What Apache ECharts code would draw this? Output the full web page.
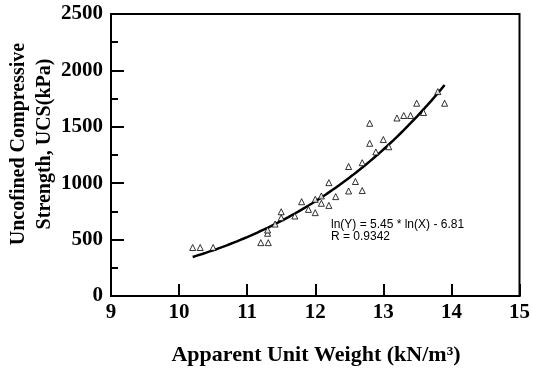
<!DOCTYPE html>
<html>
<head>
<meta charset="utf-8">
<title>UCS vs Apparent Unit Weight</title>
<script src="https://cdn.jsdelivr.net/npm/echarts@6/dist/echarts.min.js"></script>
<style>
  html, body { margin: 0; padding: 0; background: #fff; }
  #chart { width: 533px; height: 370px; }
</style>
</head>
<body>
<div id="chart"></div>
<script>
// Measured samples: apparent unit weight (kN/m³) and UCS (kPa)
const unitWeight = [
  10.20, 10.31, 10.50, 11.20, 11.31, 11.30, 11.30, 11.41, 11.50, 11.50,
  11.70, 11.80, 11.90, 12.00, 12.00, 12.09, 12.09, 12.20, 12.20, 12.30,
  12.49, 12.49, 12.59, 12.69, 12.69, 12.80, 12.89, 12.80, 13.00, 13.08,
  13.20, 13.30, 13.40, 13.49, 13.59, 13.80, 13.90
];
const ucs = [
  430, 430, 430, 473, 473, 556, 585, 638, 694, 747,
  709, 836, 768, 739, 857, 887, 822, 803, 1005, 881,
  931, 1148, 1015, 935, 1182, 1354, 1277, 1531, 1387, 1323,
  1578, 1600, 1600, 1709, 1627, 1812, 1709
];

// Power-law regression: ln(Y) = a * ln(X) + b
const FIT_SLOPE = 5.45;
const FIT_INTERCEPT = -6.81;
const FIT_R = 0.9342;
const FIT_X_START = 10.2;
const FIT_X_END = 13.9;

const xTicks = [9, 10, 11, 12, 13, 14, 15];
const yTicks = [0, 500, 1000, 1500, 2000, 2500];

const points = unitWeight.map((x, i) => [x, ucs[i]]);

// Regression curve sampled along the fitted range
const fitCurve = [];
for (let k = 0; k <= 74; k++) {
  const x = FIT_X_START + (FIT_X_END - FIT_X_START) * k / 74;
  fitCurve.push([x, Math.exp(FIT_SLOPE * Math.log(x) + FIT_INTERCEPT)]);
}

const serifFamily = '"Liberation Serif", "Times New Roman", serif';

const chart = echarts.init(document.getElementById('chart'), null, { renderer: 'canvas' });
chart.setOption({
  animation: false,
  backgroundColor: '#fff',
  grid: {
    left: 111, right: 12, top: 14, bottom: 74,
    show: true, borderColor: '#000', borderWidth: 2, backgroundColor: 'transparent'
  },
  xAxis: {
    type: 'value',
    min: xTicks[0], max: xTicks[xTicks.length - 1], interval: 1,
    axisLine: { show: true, onZero: false, lineStyle: { color: '#000', width: 2 } },
    axisTick: { show: true, inside: true, length: 12, lineStyle: { color: '#000', width: 2 } },
    axisLabel: {
      margin: 6, color: '#000',
      fontFamily: serifFamily, fontWeight: 'bold', fontSize: 21,
      formatter: v => String(v)
    },
    splitLine: { show: false }
  },
  yAxis: {
    type: 'value',
    min: yTicks[0], max: yTicks[yTicks.length - 1], interval: 500,
    axisLine: { show: true, onZero: false, lineStyle: { color: '#000', width: 2 } },
    axisTick: { show: true, inside: true, length: 13, lineStyle: { color: '#000', width: 2 } },
    minorTick: { show: true, splitNumber: 2, length: 7, lineStyle: { color: '#000', width: 2 } },
    axisLabel: {
      margin: 8, color: '#000',
      fontFamily: serifFamily, fontWeight: 'bold', fontSize: 21,
      formatter: v => String(v)
    },
    splitLine: { show: false }
  },
  series: [
    {
      type: 'line',
      data: fitCurve,
      showSymbol: false,
      smooth: false,
      lineStyle: { color: '#000', width: 2.5 },
      z: 2
    },
    {
      type: 'scatter',
      data: points,
      symbol: 'triangle',
      symbolSize: 6,
      itemStyle: { color: '#fff', borderColor: '#000', borderWidth: 1 },
      z: 3
    }
  ],
  graphic: [
    {
      type: 'text',
      x: 32, y: 144,
      rotation: Math.PI / 2,
      style: {
        text: 'Uncofined Compressive\nStrength, UCS(kPa)',
        font: 'bold 20px ' + serifFamily,
        fill: '#000',
        align: 'center',
        verticalAlign: 'middle',
        lineHeight: 26
      }
    },
    {
      type: 'text',
      x: 316, y: 355,
      style: {
        text: 'Apparent Unit Weight (kN/m³)',
        font: 'bold 22px ' + serifFamily,
        fill: '#000',
        align: 'center',
        verticalAlign: 'middle'
      }
    },
    {
      type: 'text',
      x: 331, y: 231,
      style: {
        text: 'ln(Y) = ' + FIT_SLOPE.toFixed(2) + ' * ln(X) - ' + Math.abs(FIT_INTERCEPT).toFixed(2) +
              '\nR = ' + FIT_R.toFixed(4),
        font: '12px "Liberation Sans", Arial, sans-serif',
        fill: '#000',
        align: 'left',
        verticalAlign: 'middle',
        lineHeight: 12
      }
    }
  ]
});
</script>
</body>
</html>
